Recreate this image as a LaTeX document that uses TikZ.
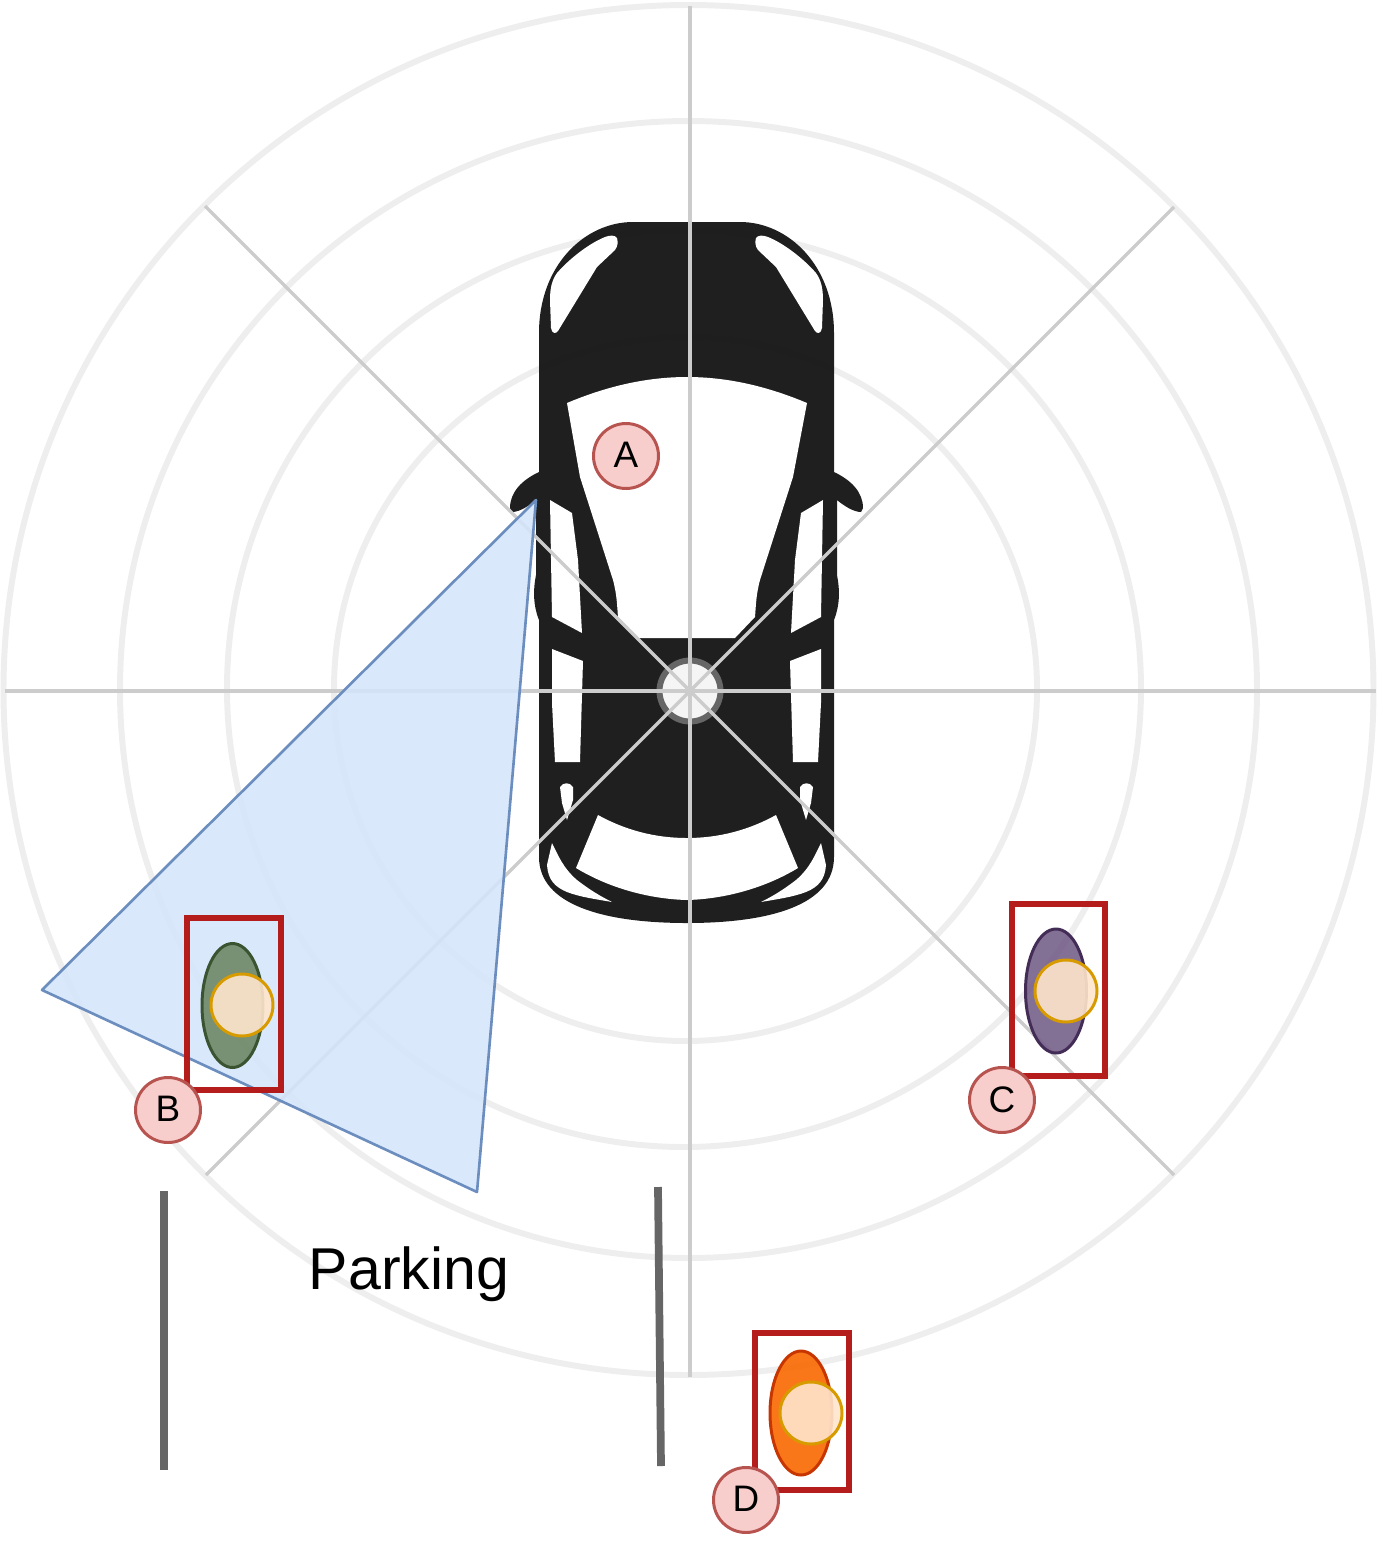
\documentclass[tikz,border=0pt]{standalone}
\usepackage{fontspec}
\setmainfont{Liberation Sans}

\definecolor{ringgray}{HTML}{EEEEEE}
\definecolor{spokegray}{HTML}{CCCCCC}
\definecolor{bodyblack}{HTML}{161616}
\definecolor{boxred}{HTML}{B41818}
\definecolor{fovblue}{HTML}{D5E5FB}
\definecolor{fovedge}{HTML}{6C8EBF}
\definecolor{tagfill}{HTML}{F8CECC}
\definecolor{tagedge}{HTML}{B85450}
\definecolor{headfill}{HTML}{FFE6CC}
\definecolor{headedge}{HTML}{D79B00}
\definecolor{lanegray}{HTML}{666666}

\tikzset{
  ring/.style={draw=ringgray, line width=3.4pt},
  spoke/.style={draw=spokegray, line width=1.9pt},
  window/.style={fill=white, draw=none},
  fov/.style={fill=fovblue, fill opacity=0.88, draw=fovedge, line width=1.5pt, line join=round},
  bbox/.style={draw=boxred, draw opacity=0.98, line width=3.4pt},
  person/.style={fill opacity=0.9, line width=1.7pt},
  head/.style={fill=headfill, fill opacity=0.9, draw=headedge, line width=1.7pt},
  tag/.style={circle, fill=tagfill, draw=tagedge, line width=1.7pt, minimum size=1.3cm, inner sep=0pt, text depth=1pt, font=\fontsize{21}{21}\selectfont},
  lane/.style={draw=lanegray, line width=4.4pt},
  carwin/.pic={
    % corner window
    \fill[window] (617,238) .. controls (615,235) and (610,235) .. (605,237) .. controls (590,243) and (570,258) .. (557,273)
      .. controls (552,280) and (550,288) .. (550,300) -- (551,328) .. controls (552,334) and (556,334) .. (558,331)
      -- (597,267) -- (615,250) .. controls (618,246) and (618,242) .. (617,238) -- cycle;
    % side windows
    \fill[window] (550,500) -- (572,513) -- (578,560) -- (582,633) -- (552,617) -- cycle;
    \fill[window] (552,649) -- (583,661) -- (580,762) -- (555,762) -- (552,703) -- cycle;
    \fill[window] (560,787) .. controls (563,782) and (570,782) .. (573,787) -- (573,800) -- (567,820) -- (562,803) -- cycle;
    % tail light
    \fill[window] (552,843) .. controls (558,855) and (563,868) .. (577,880) .. controls (590,890) and (600,896) .. (612,902)
      .. controls (595,899) and (580,897) .. (567,892) .. controls (555,887) and (548,880) .. (547,865) -- cycle;
  }
}

\begin{document}
\begin{tikzpicture}[x=0.02cm,y=-0.02cm]
  \useasboundingbox (0,0) rectangle (1383,1546);

  \coordinate (origin) at (690,691);

  % range rings
  \draw[ring] (685.5,689) ellipse [x radius=351.5, y radius=352];
  \draw[ring] (684,688.5) ellipse [x radius=457, y radius=458.5];
  \draw[ring] (688.5,689.5) ellipse [x radius=568.5, y radius=568.5];
  \draw[ring] (688.5,690) ellipse [x radius=685, y radius=685];

  % car
  \fill[bodyblack, fill opacity=0.96] (633,222) -- (740,222) .. controls (788,222) and (834,265) .. (834,333)
    -- (834,472) .. controls (851,480) and (863,492) .. (863,508) -- (861,512) .. controls (853,512) and (843,505) .. (837,500)
    -- (837,575) .. controls (840,590) and (840,605) .. (834,620) -- (834,857)
    .. controls (834,905) and (770,923) .. (687,923) .. controls (604,923) and (539,905) .. (539,857)
    -- (539,620) .. controls (533,605) and (533,590) .. (536,575) -- (536,500)
    .. controls (530,505) and (520,512) .. (512,512) -- (510,508) .. controls (510,492) and (522,480) .. (539,472)
    -- (539,333) .. controls (539,265) and (585,222) .. (633,222) -- cycle;
  \fill[window] (567,403) .. controls (605,387) and (645,377) .. (687,377) .. controls (729,377) and (769,387) .. (807,403)
    -- (793,477) -- (760,580) .. controls (756,595) and (756,605) .. (755,617) -- (735,638) -- (638,638) -- (618,617)
    .. controls (617,605) and (617,595) .. (613,580) -- (580,477) -- cycle;
  \fill[window] (598,815) .. controls (625,830) and (655,838) .. (687,838) .. controls (719,838) and (749,830) .. (776,815)
    -- (798,868) .. controls (765,888) and (725,899) .. (687,900) .. controls (649,899) and (609,888) .. (576,868) -- cycle;
  \pic at (0,0) {carwin};
  \pic[xscale=-1] at (1373,0) {carwin};

  % spokes
  \coordinate (n) at (690,6);
  \coordinate (s) at (690,1377);
  \coordinate (w) at (5,691);
  \coordinate (e) at (1376,691);
  \coordinate (nw) at (205,206);
  \coordinate (se) at (1174,1175);
  \coordinate (ne) at (1174,207);
  \coordinate (sw) at (206,1175);
  \draw[fill=black!4, draw=lanegray, line width=3.4pt] (origin) circle (30.5);
  \draw[spoke] (n) -- (s);
  \draw[spoke] (w) -- (e);
  \draw[spoke] (nw) -- (se);
  \draw[spoke] (ne) -- (sw);

  % field of view
  \coordinate (cam) at (536,500);
  \coordinate (fovl) at (42,990);
  \coordinate (fovr) at (477,1192);
  \draw[fov] (cam) -- (fovl) -- (fovr) -- cycle;

  % pedestrians
  \draw[person, fill={rgb,255:red,109;green,135;blue,100}, draw={rgb,255:red,58;green,84;blue,49}] (232.5,1005.5) ellipse [x radius=30.5, y radius=62];
  \draw[bbox] (187,918) rectangle (281,1090);
  \draw[head] (242,1005) circle (31);

  \draw[person, fill={rgb,255:red,118;green,96;blue,138}, draw={rgb,255:red,67;green,45;blue,87}] (1056,991) ellipse [x radius=30.5, y radius=62];
  \draw[bbox] (1012,904) rectangle (1105,1076);
  \draw[head] (1066,991) circle (31);

  \draw[person, fill={rgb,255:red,250;green,104;blue,0}, draw={rgb,255:red,199;green,53;blue,0}] (801,1413) ellipse [x radius=31, y radius=62];
  \draw[bbox] (755,1333) rectangle (849,1490);
  \draw[head] (811,1413) circle (31);

  % parking lane
  \coordinate (lanea) at (164,1191);
  \coordinate (laneb) at (164,1470);
  \coordinate (lanec) at (658,1187);
  \coordinate (laned) at (661,1466);
  \draw[lane] (lanea) -- (laneb);
  \draw[lane] (lanec) -- (laned);
  \node[font=\fontsize{33.6}{33.6}\selectfont, inner sep=0pt] (parking) at (409,1274) {Parking};

  % tags
  \node[tag] (taga) at (626,456) {A};
  \node[tag] (tagb) at (168,1110) {B};
  \node[tag] (tagc) at (1002,1100) {C};
  \node[tag] (tagd) at (746,1500) {D};
\end{tikzpicture}
\end{document}
